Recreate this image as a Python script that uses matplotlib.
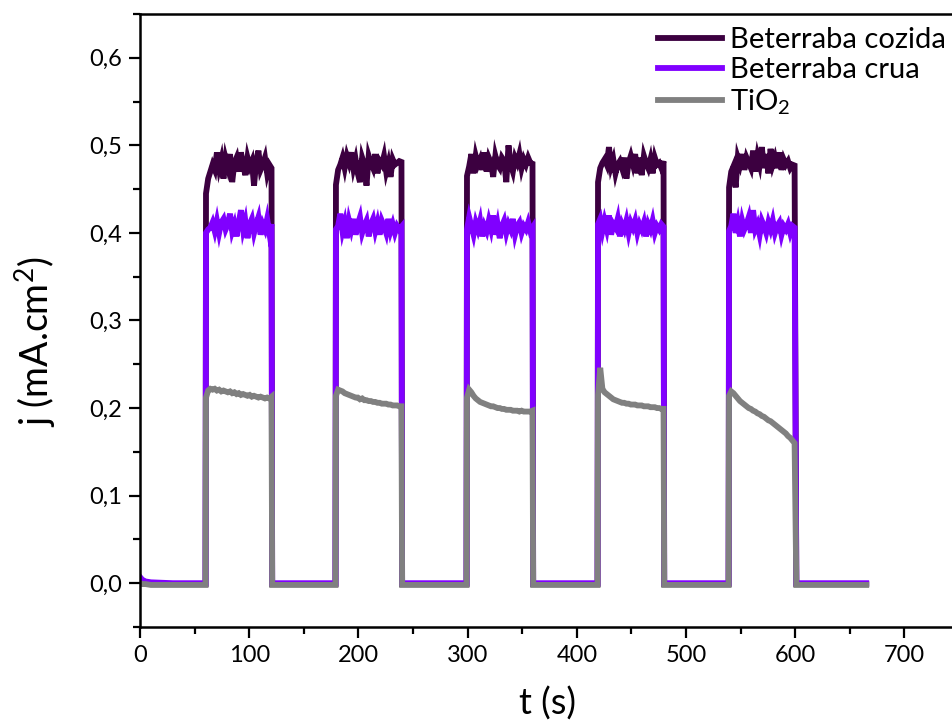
"""
Chopped-light chronoamperometry: beet-dye sensitised TiO2 vs bare TiO2.
"""

import numpy as np
import matplotlib
matplotlib.use("Agg")
import matplotlib.pyplot as plt
from matplotlib.ticker import MultipleLocator, FuncFormatter

plt.rcParams["font.family"] = ["Lato", "DejaVu Sans"]
plt.rcParams["mathtext.fontset"] = "custom"
plt.rcParams["mathtext.rm"] = "Lato"
plt.rcParams["mathtext.it"] = "Lato"

# light on / off times (s)
PULSE_ON  = [60, 179, 299, 419, 539]
PULSE_OFF = [121, 240, 360, 480, 601]
T_END = 665
STEP = 2.0   # sampling step during illumination (s)

# first seconds in the dark
START_T      = [0, 2, 5, 10, 30]
cozida_start = [0.002, 0.001, 0.000, -0.001, -0.001]
crua_start   = [0.007, 0.004, 0.002, 0.001, 0.000]
tio2_start   = [0.000, -0.001, -0.001, -0.002, -0.002]

cozida_dark = -0.001
crua_dark   = 0.000
tio2_dark   = -0.002

# current density under illumination (mA/cm2), one list per light pulse
cozida_on = [
    [0.445, 0.462, 0.470, 0.478, 0.472, 0.492, 0.474, 0.484, 0.462, 0.485, 0.475,
     0.490, 0.458, 0.480, 0.486, 0.470, 0.492, 0.478, 0.466, 0.486, 0.476, 0.482,
     0.454, 0.482, 0.494, 0.472, 0.478, 0.486, 0.468, 0.478, 0.474],
    [0.455, 0.472, 0.478, 0.486, 0.474, 0.488, 0.480, 0.492, 0.474, 0.484, 0.468,
     0.458, 0.486, 0.478, 0.454, 0.488, 0.480, 0.474, 0.490, 0.468, 0.482, 0.478,
     0.488, 0.470, 0.480, 0.464, 0.484, 0.478, 0.480, 0.482, 0.481],
    [0.465, 0.476, 0.490, 0.468, 0.488, 0.478, 0.484, 0.472, 0.492, 0.470, 0.486,
     0.480, 0.464, 0.488, 0.478, 0.474, 0.486, 0.482, 0.458, 0.500, 0.478, 0.470,
     0.486, 0.480, 0.490, 0.474, 0.484, 0.478, 0.486, 0.480, 0.479],
    [0.458, 0.474, 0.480, 0.484, 0.478, 0.498, 0.476, 0.484, 0.468, 0.478, 0.482,
     0.474, 0.486, 0.462, 0.480, 0.488, 0.478, 0.490, 0.468, 0.486, 0.466, 0.488,
     0.480, 0.474, 0.484, 0.468, 0.486, 0.478, 0.480, 0.474, 0.482],
    [0.452, 0.470, 0.476, 0.452, 0.486, 0.478, 0.490, 0.472, 0.486, 0.480, 0.474,
     0.494, 0.470, 0.488, 0.478, 0.498, 0.474, 0.490, 0.468, 0.496, 0.478, 0.486,
     0.474, 0.492, 0.472, 0.484, 0.478, 0.482, 0.474, 0.478, 0.477],
]

crua_on = [
    [0.400, 0.404, 0.406, 0.412, 0.402, 0.414, 0.400, 0.412, 0.416, 0.404, 0.410,
     0.422, 0.402, 0.410, 0.396, 0.412, 0.426, 0.404, 0.414, 0.394, 0.410, 0.416,
     0.400, 0.410, 0.418, 0.398, 0.410, 0.404, 0.416, 0.400, 0.410],
    [0.404, 0.408, 0.422, 0.402, 0.412, 0.394, 0.414, 0.404, 0.416, 0.398, 0.410,
     0.418, 0.400, 0.408, 0.414, 0.396, 0.410, 0.416, 0.402, 0.412, 0.398, 0.414,
     0.408, 0.400, 0.416, 0.402, 0.410, 0.400, 0.408, 0.404, 0.407],
    [0.404, 0.418, 0.408, 0.398, 0.412, 0.404, 0.414, 0.396, 0.408, 0.402, 0.414,
     0.404, 0.420, 0.398, 0.410, 0.394, 0.408, 0.414, 0.400, 0.410, 0.404, 0.416,
     0.398, 0.408, 0.412, 0.400, 0.408, 0.404, 0.412, 0.402, 0.406],
    [0.410, 0.416, 0.402, 0.414, 0.404, 0.420, 0.398, 0.410, 0.406, 0.416, 0.396,
     0.410, 0.404, 0.414, 0.400, 0.412, 0.406, 0.414, 0.400, 0.410, 0.404, 0.412,
     0.396, 0.410, 0.404, 0.414, 0.400, 0.408, 0.404, 0.410, 0.407],
    [0.402, 0.408, 0.422, 0.400, 0.412, 0.396, 0.414, 0.404, 0.410, 0.418, 0.400,
     0.426, 0.404, 0.410, 0.398, 0.414, 0.408, 0.400, 0.412, 0.404, 0.414, 0.400,
     0.408, 0.412, 0.398, 0.408, 0.404, 0.410, 0.400, 0.408, 0.406],
]

tio2_on = [
    [0.212, 0.220, 0.222, 0.221, 0.222, 0.220, 0.221, 0.219, 0.220, 0.219, 0.218,
     0.219, 0.217, 0.218, 0.216, 0.217, 0.215, 0.216, 0.215, 0.214, 0.215, 0.213,
     0.214, 0.213, 0.212, 0.213, 0.212, 0.211, 0.212, 0.211, 0.213],
    [0.214, 0.221, 0.220, 0.219, 0.217, 0.216, 0.215, 0.214, 0.213, 0.212, 0.212,
     0.210, 0.211, 0.209, 0.209, 0.208, 0.208, 0.207, 0.207, 0.206, 0.206, 0.205,
     0.205, 0.205, 0.204, 0.204, 0.203, 0.203, 0.203, 0.202, 0.202],
    [0.212, 0.221, 0.218, 0.214, 0.211, 0.209, 0.207, 0.206, 0.205, 0.204, 0.203,
     0.202, 0.202, 0.201, 0.200, 0.200, 0.199, 0.199, 0.198, 0.198, 0.198, 0.197,
     0.197, 0.197, 0.196, 0.197, 0.196, 0.196, 0.196, 0.196, 0.197],
    [0.215, 0.246, 0.222, 0.218, 0.216, 0.214, 0.212, 0.210, 0.209, 0.208, 0.207,
     0.206, 0.206, 0.205, 0.205, 0.204, 0.204, 0.204, 0.203, 0.203, 0.203, 0.202,
     0.202, 0.202, 0.201, 0.201, 0.201, 0.200, 0.200, 0.199, 0.199],
    [0.214, 0.219, 0.217, 0.214, 0.211, 0.208, 0.206, 0.204, 0.202, 0.200, 0.199,
     0.197, 0.196, 0.194, 0.193, 0.191, 0.190, 0.188, 0.186, 0.185, 0.183, 0.181,
     0.179, 0.177, 0.175, 0.173, 0.171, 0.168, 0.166, 0.163, 0.160],
]

LABELS = ["Beterraba cozida", "Beterraba crua", "TiO$_2$"]
COLORS = ["#3c0040", "#8000ff", "#808080"]


def build_series(start_vals, pulses, dark):
    """Join dark stretches and illuminated plateaus into one trace."""
    t = list(START_T)
    y = list(start_vals)
    for on, off, vals in zip(PULSE_ON, PULSE_OFF, pulses):
        t.append(on)
        y.append(dark)
        for k, v in enumerate(vals):
            t.append(on + 0.4 + STEP * k)
            y.append(v)
        t.append(off)
        y.append(dark)
    t.append(T_END)
    y.append(dark)
    return np.array(t), np.array(y)


fig = plt.figure(figsize=(9.52, 7.22), dpi=100)
ax = fig.add_axes([0.1471, 0.1316, 0.8603, 0.849])

series = [
    build_series(cozida_start, cozida_on, cozida_dark),
    build_series(crua_start, crua_on, crua_dark),
    build_series(tio2_start, tio2_on, tio2_dark),
]
for (t, y), lab, col in zip(series, LABELS, COLORS):
    ax.plot(t, y, color=col, lw=4.2, label=lab, solid_joinstyle="miter")

ax.set_xlim(0, 750)
ax.set_ylim(-0.05, 0.65)
ax.xaxis.set_major_locator(MultipleLocator(100))
ax.xaxis.set_minor_locator(MultipleLocator(50))
ax.yaxis.set_major_locator(MultipleLocator(0.1))
ax.yaxis.set_minor_locator(MultipleLocator(0.05))
ax.yaxis.set_major_formatter(FuncFormatter(lambda v, p: f"{v:.1f}".replace(".", ",")))

for s in ["left", "bottom", "top"]:
    ax.spines[s].set_linewidth(1.8)
ax.spines["right"].set_visible(False)
ax.tick_params(which="both", direction="out", width=1.6, top=False, right=False)
ax.tick_params(which="major", length=8, labelsize=17, pad=5)
ax.tick_params(which="minor", length=5)

ax.set_xlabel("t (s)", fontsize=26)
ax.set_ylabel("j (mA.cm$^2$)", fontsize=27)
ax.xaxis.set_label_coords(0.498, -0.097)
ax.yaxis.set_label_coords(-0.100, 0.465)

ax.legend(loc="upper left", bbox_to_anchor=(0.6694, 0.991), bbox_transform=fig.transFigure,
          frameon=False, fontsize=21, handlelength=2.22, handletextpad=0.27,
          labelspacing=0.15, borderpad=0.2)

fig.savefig("out.png", dpi=100)
